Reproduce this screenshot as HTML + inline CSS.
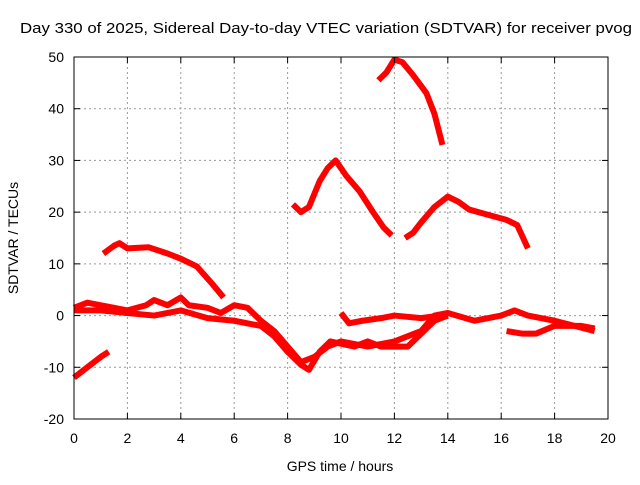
<!DOCTYPE html>
<html><head><meta charset="utf-8"><style>
body{margin:0;background:#fff}
svg text{font-family:"Liberation Sans",sans-serif;font-size:14px;fill:#000}
</style></head><body>
<svg id="chart" width="640" height="480" xmlns="http://www.w3.org/2000/svg">
<text x="20" y="33" style="font-size:15px" textLength="612" lengthAdjust="spacingAndGlyphs">Day 330 of 2025, Sidereal Day-to-day VTEC variation (SDTVAR) for receiver pvog</text>
<g id="grid"></g><g id="series"></g><g id="axes"></g>
<text x="340" y="471" text-anchor="middle">GPS time / hours</text>
<text transform="translate(18,238) rotate(-90)" text-anchor="middle">SDTVAR / TECUs</text>
</svg>
<script>
const xTicks=[0,2,4,6,8,10,12,14,16,18,20];
const yTicks=[-20,-10,0,10,20,30,40,50];
const s1=[[0,-12],[0.5,-10],[1.0,-8],[1.3,-7]];
const s2=[[1.1,12],[1.5,13.5],[1.7,14],[2,13],[2.8,13.2],[3.5,12],[4,11],[4.6,9.5],[5.2,6],[5.6,3.5]];
const s3=[[0,1.5],[0.5,2.5],[1.5,1.5],[2,1],[2.7,2],[3,3],[3.5,2],[4,3.5],[4.3,2],[5,1.5],[5.5,0.5],[6,2],[6.5,1.5],[7,-1],[7.5,-3],[8,-6],[8.5,-9],[9,-8],[9.5,-6],[10,-5],[11,-6],[12,-5],[13,-3],[13.5,0],[14,0.5],[15,-1],[16,0],[16.5,1],[17,0],[18,-1],[19.5,-3]];
const s4=[[0,1],[1,1],[2,0.5],[3,0],[4,1],[5,-0.5],[6,-1],[7,-2],[7.5,-4],[8,-7],[8.5,-9.5],[8.8,-10.5],[9.2,-7],[9.6,-5],[10.5,-6],[11,-5],[11.5,-6],[12.5,-6],[13,-3.5],[13.5,-1],[14,0]];
const s5=[[10,0.5],[10.3,-1.5],[10.8,-1],[11.5,-0.5],[12,0],[13,-0.5],[13.7,0]];
const s6=[[16.2,-3],[16.8,-3.5],[17.3,-3.5],[18,-2],[19,-2],[19.5,-2.5]];
const s7=[[8.2,21.5],[8.5,20],[8.8,21],[9.2,26],[9.5,28.5],[9.8,30],[10.2,27],[10.7,24],[11.2,20],[11.6,17],[11.9,15.5]];
const s8=[[11.4,45.5],[11.7,47],[12,49.5],[12.3,49],[12.7,46.5],[13.2,43],[13.5,39],[13.8,33]];
const s9=[[12.4,15],[12.7,16],[13,18],[13.5,21],[14,23],[14.4,22],[14.8,20.5],[15.5,19.5],[16.2,18.5],[16.6,17.5],[17,13]];
const allSeries=[s1,s2,s3,s4,s5,s6,s7,s8,s9];
const X0=74,X1=608,Y0=419,Y1=57;
const xs=v=>X0+(v-0)/20*(X1-X0);
const ys=v=>Y0-(v+20)/70*(Y0-Y1);
const NS="http://www.w3.org/2000/svg";
function mk(t,a,p){const e=document.createElementNS(NS,t);for(const k in a)e.setAttribute(k,a[k]);p.appendChild(e);return e;}
const grid=document.getElementById('grid'),axes=document.getElementById('axes'),ser=document.getElementById('series');
xTicks.forEach(t=>{const x=xs(t);
 if(t>0&&t<20){const g=mk('line',{x1:x,x2:x,y1:Y1,y2:Y0,stroke:'#999','stroke-dasharray':'2,3'},grid);
 
 }
 mk('line',{x1:x,x2:x,y1:Y0,y2:Y0-6,stroke:'#000'},axes);mk('line',{x1:x,x2:x,y1:Y1,y2:Y1+6,stroke:'#000'},axes);
 const tx=mk('text',{x:x,y:Y0+24,'text-anchor':'middle'},axes);tx.textContent=t;
 
 });
yTicks.forEach(t=>{const y=ys(t);
 if(t>-20&&t<50){const g=mk('line',{x1:X0,x2:X1,y1:y,y2:y,stroke:'#999','stroke-dasharray':'2,3'},grid);
 
 }
 mk('line',{x1:X0,x2:X0+6,y1:y,y2:y,stroke:'#000'},axes);mk('line',{x1:X1,x2:X1-6,y1:y,y2:y,stroke:'#000'},axes);
 const tx=mk('text',{x:X0-10,y:y+5,'text-anchor':'end'},axes);tx.textContent=t;
 
 });
const fr=mk('rect',{x:X0,y:Y1,width:X1-X0,height:Y0-Y1,fill:'none',stroke:'#000'},axes);


allSeries.forEach((s,i)=>{
 const p=mk('polyline',{points:s.map(d=>xs(d[0])+','+ys(d[1])).join(' '),fill:'none',stroke:'#f00','stroke-width':6,'stroke-linejoin':'round'},ser);
 
 
});
</script>
</body></html>
